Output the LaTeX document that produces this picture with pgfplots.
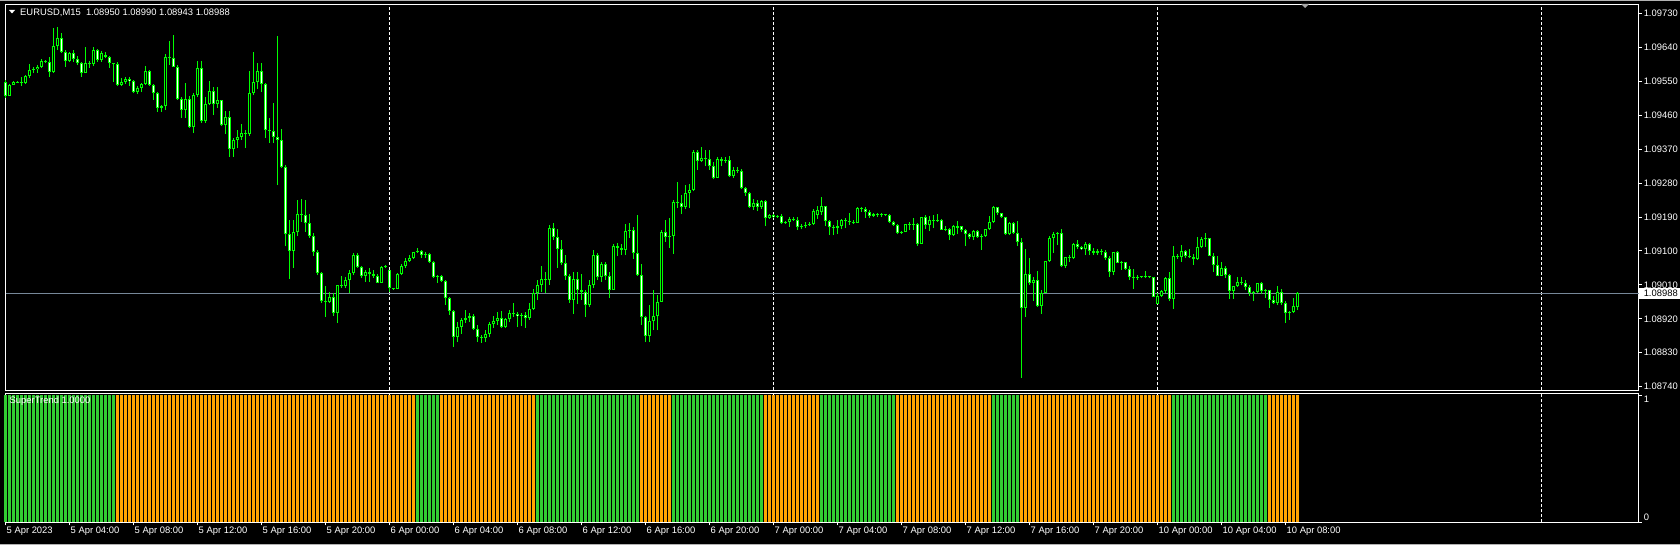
\documentclass[border=0pt]{standalone}
\usepackage{pgfplots}
\pgfplotsset{compat=1.18}
\usepackage{pgfplotstable}
\usepackage{fontspec}
\setmainfont{Liberation Sans}
\definecolor{candle}{RGB}{0,255,0}
\definecolor{stgreen}{RGB}{50,205,50}
\definecolor{storange}{RGB}{255,165,0}
\definecolor{pline}{RGB}{119,136,153}
\newcommand\mtf{\fontsize{9.4pt}{11pt}\selectfont}
\pgfplotstableread{
i o h l c
0 1.09549 1.09554 1.09506 1.09512
1 1.09512 1.09543 1.09512 1.09541
2 1.09541 1.09551 1.09541 1.09549
3 1.09549 1.09551 1.09546 1.09546
4 1.09546 1.09562 1.09538 1.09546
5 1.09546 1.09567 1.09543 1.09565
6 1.09565 1.09596 1.09559 1.09581
7 1.09581 1.09589 1.09573 1.09583
8 1.09583 1.09594 1.09573 1.09589
9 1.09589 1.09610 1.09586 1.09604
10 1.09604 1.09607 1.09599 1.09602
11 1.09602 1.09615 1.09562 1.09575
12 1.09575 1.09692 1.09573 1.09644
13 1.09644 1.09695 1.09634 1.09666
14 1.09666 1.09679 1.09626 1.09628
15 1.09628 1.09634 1.09589 1.09604
16 1.09604 1.09628 1.09602 1.09626
17 1.09626 1.09634 1.09602 1.09610
18 1.09610 1.09618 1.09594 1.09599
19 1.09599 1.09602 1.09562 1.09573
20 1.09573 1.09642 1.09573 1.09599
21 1.09599 1.09604 1.09586 1.09596
22 1.09596 1.09642 1.09591 1.09634
23 1.09634 1.09636 1.09602 1.09607
24 1.09607 1.09631 1.09602 1.09626
25 1.09620 1.09628 1.09612 1.09615
26 1.09615 1.09618 1.09586 1.09599
27 1.09599 1.09599 1.09549 1.09596
28 1.09596 1.09602 1.09538 1.09541
29 1.09541 1.09559 1.09538 1.09549
30 1.09549 1.09562 1.09543 1.09557
31 1.09557 1.09562 1.09538 1.09551
32 1.09551 1.09554 1.09519 1.09522
33 1.09522 1.09538 1.09517 1.09533
34 1.09533 1.09546 1.09522 1.09543
35 1.09543 1.09591 1.09541 1.09578
36 1.09578 1.09581 1.09538 1.09541
37 1.09541 1.09543 1.09501 1.09519
38 1.09519 1.09522 1.09469 1.09480
39 1.09480 1.09488 1.09469 1.09485
40 1.09485 1.09623 1.09474 1.09615
41 1.09615 1.09658 1.09594 1.09612
42 1.09612 1.09673 1.09589 1.09589
43 1.09589 1.09594 1.09501 1.09504
44 1.09504 1.09509 1.09453 1.09474
45 1.09474 1.09546 1.09453 1.09504
46 1.09504 1.09512 1.09427 1.09429
47 1.09429 1.09519 1.09413 1.09514
48 1.09514 1.09604 1.09509 1.09586
49 1.09586 1.09604 1.09440 1.09445
50 1.09445 1.09509 1.09440 1.09490
51 1.09490 1.09551 1.09488 1.09525
52 1.09525 1.09535 1.09461 1.09490
53 1.09490 1.09535 1.09480 1.09501
54 1.09501 1.09501 1.09432 1.09435
55 1.09435 1.09472 1.09411 1.09456
56 1.09456 1.09472 1.09350 1.09371
57 1.09371 1.09400 1.09350 1.09395
58 1.09395 1.09421 1.09373 1.09403
59 1.09403 1.09437 1.09395 1.09413
60 1.09413 1.09421 1.09373 1.09411
61 1.09411 1.09578 1.09405 1.09519
62 1.09519 1.09628 1.09514 1.09549
63 1.09549 1.09599 1.09530 1.09578
64 1.09578 1.09599 1.09522 1.09543
65 1.09543 1.09546 1.09400 1.09421
66 1.09421 1.09453 1.09387 1.09419
67 1.09419 1.09493 1.09387 1.09403
68 1.09403 1.09671 1.09275 1.09395
69 1.09395 1.09424 1.09320 1.09323
70 1.09323 1.09328 1.09113 1.09145
71 1.09145 1.09182 1.09026 1.09100
72 1.09100 1.09182 1.09055 1.09150
73 1.09150 1.09235 1.09140 1.09198
74 1.09198 1.09238 1.09177 1.09196
75 1.09196 1.09235 1.09150 1.09174
76 1.09174 1.09198 1.09135 1.09140
77 1.09140 1.09148 1.09087 1.09097
78 1.09097 1.09103 1.09036 1.09042
79 1.09042 1.09044 1.08962 1.08967
80 1.08967 1.09007 1.08925 1.08965
81 1.08965 1.08991 1.08962 1.08978
82 1.08978 1.08988 1.08927 1.08935
83 1.08935 1.09010 1.08909 1.09010
84 1.09010 1.09034 1.09002 1.09007
85 1.09007 1.09031 1.09002 1.09023
86 1.09023 1.09050 1.08988 1.09042
87 1.09042 1.09095 1.09036 1.09089
88 1.09089 1.09095 1.09055 1.09058
89 1.09058 1.09060 1.09028 1.09034
90 1.09034 1.09050 1.09018 1.09044
91 1.09044 1.09055 1.09018 1.09039
92 1.09039 1.09050 1.09028 1.09034
93 1.09034 1.09039 1.09015 1.09015
94 1.09015 1.09060 1.09015 1.09058
95 1.09058 1.09063 1.09055 1.09060
96 1.09050 1.09050 1.08991 1.09002
97 1.09002 1.09002 1.08996 1.08999
98 1.08999 1.09042 1.08999 1.09039
99 1.09039 1.09065 1.09036 1.09060
100 1.09060 1.09081 1.09055 1.09073
101 1.09073 1.09089 1.09071 1.09081
102 1.09081 1.09097 1.09079 1.09097
103 1.09097 1.09108 1.09095 1.09100
104 1.09100 1.09103 1.09081 1.09089
105 1.09089 1.09097 1.09081 1.09092
106 1.09092 1.09095 1.09068 1.09071
107 1.09071 1.09073 1.09028 1.09031
108 1.09031 1.09036 1.09015 1.09034
109 1.09034 1.09036 1.09018 1.09020
110 1.09020 1.09023 1.08957 1.08975
111 1.08975 1.08978 1.08930 1.08941
112 1.08941 1.08943 1.08845 1.08872
113 1.08872 1.08911 1.08858 1.08898
114 1.08898 1.08922 1.08880 1.08917
115 1.08917 1.08943 1.08909 1.08922
116 1.08922 1.08935 1.08911 1.08927
117 1.08927 1.08933 1.08890 1.08893
118 1.08893 1.08904 1.08858 1.08872
119 1.08872 1.08877 1.08856 1.08869
120 1.08869 1.08890 1.08858 1.08880
121 1.08880 1.08911 1.08872 1.08906
122 1.08906 1.08927 1.08896 1.08914
123 1.08914 1.08938 1.08904 1.08922
124 1.08922 1.08941 1.08896 1.08898
125 1.08898 1.08922 1.08896 1.08919
126 1.08919 1.08943 1.08911 1.08935
127 1.08935 1.08962 1.08925 1.08933
128 1.08933 1.08938 1.08898 1.08927
129 1.08927 1.08935 1.08901 1.08930
130 1.08930 1.08938 1.08896 1.08922
131 1.08922 1.08962 1.08917 1.08946
132 1.08946 1.08999 1.08943 1.08988
133 1.08988 1.09023 1.08970 1.09010
134 1.09010 1.09060 1.08991 1.09026
135 1.09026 1.09044 1.08988 1.09023
136 1.09023 1.09169 1.09010 1.09161
137 1.09161 1.09174 1.09129 1.09137
138 1.09137 1.09158 1.09055 1.09105
139 1.09105 1.09129 1.09063 1.09068
140 1.09068 1.09089 1.09023 1.09034
141 1.09034 1.09039 1.08962 1.08970
142 1.08970 1.09044 1.08933 1.09026
143 1.09026 1.09044 1.08959 1.08996
144 1.08996 1.09039 1.08970 1.08991
145 1.08991 1.08996 1.08925 1.08957
146 1.08957 1.09023 1.08951 1.09010
147 1.09010 1.09103 1.09002 1.09089
148 1.09089 1.09095 1.09023 1.09031
149 1.09031 1.09071 1.09018 1.09065
150 1.09065 1.09071 1.09023 1.09034
151 1.09034 1.09044 1.08975 1.08996
152 1.08996 1.09119 1.08996 1.09113
153 1.09113 1.09121 1.09087 1.09108
154 1.09108 1.09119 1.09089 1.09103
155 1.09103 1.09172 1.09089 1.09153
156 1.09153 1.09174 1.09135 1.09156
157 1.09156 1.09164 1.09079 1.09095
158 1.09095 1.09196 1.09034 1.09036
159 1.09036 1.09065 1.08904 1.08925
160 1.08925 1.08927 1.08858 1.08874
161 1.08874 1.08957 1.08858 1.08914
162 1.08914 1.08996 1.08890 1.08927
163 1.08927 1.08983 1.08890 1.08965
164 1.08965 1.09156 1.08965 1.09150
165 1.09150 1.09182 1.09124 1.09137
166 1.09137 1.09188 1.09108 1.09140
167 1.09140 1.09235 1.09092 1.09230
168 1.09230 1.09283 1.09214 1.09227
169 1.09227 1.09249 1.09198 1.09217
170 1.09217 1.09275 1.09212 1.09254
171 1.09254 1.09278 1.09214 1.09262
172 1.09262 1.09368 1.09259 1.09363
173 1.09363 1.09368 1.09315 1.09339
174 1.09339 1.09376 1.09336 1.09347
175 1.09347 1.09368 1.09326 1.09344
176 1.09344 1.09368 1.09315 1.09326
177 1.09326 1.09336 1.09291 1.09294
178 1.09294 1.09350 1.09294 1.09344
179 1.09344 1.09350 1.09326 1.09339
180 1.09339 1.09350 1.09334 1.09342
181 1.09342 1.09352 1.09296 1.09299
182 1.09299 1.09323 1.09294 1.09315
183 1.09315 1.09323 1.09307 1.09312
184 1.09312 1.09318 1.09265 1.09267
185 1.09267 1.09270 1.09246 1.09254
186 1.09254 1.09257 1.09214 1.09217
187 1.09217 1.09238 1.09209 1.09227
188 1.09227 1.09235 1.09206 1.09217
189 1.09217 1.09235 1.09212 1.09233
190 1.09233 1.09235 1.09166 1.09188
191 1.09188 1.09198 1.09185 1.09196
192 1.09196 1.09198 1.09188 1.09190
193 1.09190 1.09196 1.09188 1.09193
194 1.09193 1.09198 1.09172 1.09174
195 1.09174 1.09180 1.09172 1.09177
196 1.09177 1.09190 1.09164 1.09185
197 1.09185 1.09190 1.09180 1.09182
198 1.09182 1.09190 1.09156 1.09164
199 1.09164 1.09172 1.09158 1.09166
200 1.09166 1.09177 1.09161 1.09169
201 1.09169 1.09177 1.09166 1.09172
202 1.09172 1.09212 1.09169 1.09206
203 1.09196 1.09219 1.09185 1.09209
204 1.09204 1.09243 1.09196 1.09219
205 1.09219 1.09219 1.09166 1.09180
206 1.09180 1.09182 1.09142 1.09164
207 1.09164 1.09169 1.09142 1.09161
208 1.09161 1.09182 1.09145 1.09166
209 1.09166 1.09185 1.09158 1.09182
210 1.09182 1.09188 1.09161 1.09180
211 1.09180 1.09201 1.09169 1.09177
212 1.09177 1.09182 1.09172 1.09174
213 1.09174 1.09217 1.09174 1.09214
214 1.09214 1.09217 1.09204 1.09212
215 1.09212 1.09217 1.09188 1.09204
216 1.09204 1.09209 1.09188 1.09193
217 1.09193 1.09201 1.09190 1.09198
218 1.09198 1.09201 1.09190 1.09196
219 1.09196 1.09201 1.09190 1.09198
220 1.09198 1.09198 1.09193 1.09196
221 1.09196 1.09198 1.09174 1.09177
222 1.09177 1.09180 1.09166 1.09169
223 1.09169 1.09172 1.09145 1.09148
224 1.09148 1.09153 1.09145 1.09150
225 1.09150 1.09172 1.09150 1.09172
226 1.09172 1.09177 1.09156 1.09169
227 1.09169 1.09188 1.09156 1.09172
228 1.09172 1.09174 1.09113 1.09119
229 1.09119 1.09190 1.09119 1.09190
230 1.09190 1.09196 1.09158 1.09169
231 1.09169 1.09193 1.09153 1.09182
232 1.09182 1.09196 1.09161 1.09180
233 1.09180 1.09198 1.09177 1.09182
234 1.09182 1.09185 1.09156 1.09156
235 1.09156 1.09166 1.09153 1.09158
236 1.09158 1.09161 1.09129 1.09142
237 1.09142 1.09169 1.09140 1.09166
238 1.09161 1.09180 1.09145 1.09166
239 1.09166 1.09166 1.09150 1.09156
240 1.09156 1.09158 1.09113 1.09145
241 1.09145 1.09148 1.09132 1.09137
242 1.09137 1.09156 1.09129 1.09153
243 1.09153 1.09156 1.09135 1.09137
244 1.09137 1.09145 1.09103 1.09140
245 1.09140 1.09158 1.09137 1.09158
246 1.09158 1.09193 1.09156 1.09177
247 1.09177 1.09219 1.09174 1.09217
248 1.09217 1.09217 1.09196 1.09201
249 1.09201 1.09201 1.09188 1.09190
250 1.09190 1.09190 1.09142 1.09145
251 1.09145 1.09177 1.09142 1.09174
252 1.09174 1.09177 1.09145 1.09148
253 1.09148 1.09180 1.09113 1.09124
254 1.09124 1.09135 1.08763 1.08949
255 1.08949 1.09105 1.08925 1.09039
256 1.09039 1.09081 1.09010 1.09015
257 1.09015 1.09031 1.08967 1.09023
258 1.09023 1.09047 1.08951 1.08954
259 1.08954 1.08996 1.08933 1.08988
260 1.08988 1.09073 1.08988 1.09073
261 1.09073 1.09140 1.09071 1.09135
262 1.09135 1.09150 1.09095 1.09145
263 1.09145 1.09150 1.09116 1.09148
264 1.09148 1.09158 1.09058 1.09060
265 1.09060 1.09084 1.09055 1.09084
266 1.09084 1.09089 1.09071 1.09081
267 1.09081 1.09121 1.09079 1.09119
268 1.09119 1.09129 1.09105 1.09111
269 1.09111 1.09113 1.09103 1.09105
270 1.09105 1.09124 1.09089 1.09119
271 1.09119 1.09121 1.09089 1.09100
272 1.09100 1.09108 1.09089 1.09095
273 1.09095 1.09105 1.09089 1.09100
274 1.09100 1.09105 1.09089 1.09097
275 1.09097 1.09103 1.09076 1.09081
276 1.09081 1.09087 1.09031 1.09044
277 1.09044 1.09097 1.09036 1.09097
278 1.09097 1.09100 1.09068 1.09068
279 1.09068 1.09073 1.09050 1.09071
280 1.09071 1.09071 1.09050 1.09052
281 1.09052 1.09060 1.09023 1.09031
282 1.09031 1.09052 1.08999 1.09028
283 1.09028 1.09036 1.09023 1.09031
284 1.09031 1.09031 1.09028 1.09031
285 1.09031 1.09047 1.09028 1.09031
286 1.09031 1.09031 1.09028 1.09031
287 1.09031 1.09031 1.08978 1.08978
288 1.08959 1.08988 1.08959 1.08981
289 1.08981 1.08996 1.08978 1.08994
290 1.08994 1.09031 1.08988 1.09028
291 1.09028 1.09044 1.08967 1.08973
292 1.08973 1.09113 1.08946 1.09087
293 1.09087 1.09092 1.09079 1.09084
294 1.09084 1.09116 1.09071 1.09100
295 1.09100 1.09103 1.09081 1.09087
296 1.09087 1.09105 1.09081 1.09084
297 1.09084 1.09092 1.09063 1.09079
298 1.09079 1.09137 1.09076 1.09111
299 1.09111 1.09137 1.09108 1.09132
300 1.09132 1.09148 1.09111 1.09135
301 1.09135 1.09135 1.09087 1.09087
302 1.09087 1.09095 1.09044 1.09063
303 1.09063 1.09087 1.09034 1.09034
304 1.09034 1.09071 1.09034 1.09055
305 1.09055 1.09060 1.09028 1.09036
306 1.09036 1.09039 1.08973 1.08994
307 1.08994 1.09007 1.08973 1.09007
308 1.09007 1.09031 1.09004 1.09018
309 1.09018 1.09031 1.09010 1.09015
310 1.09015 1.09023 1.08996 1.09004
311 1.09004 1.09010 1.08981 1.08988
312 1.08988 1.08994 1.08967 1.08991
313 1.08991 1.09015 1.08988 1.09015
314 1.09015 1.09018 1.08986 1.08994
315 1.08994 1.08999 1.08975 1.08996
316 1.08996 1.08996 1.08949 1.08970
317 1.08970 1.08981 1.08959 1.08962
318 1.08962 1.09007 1.08957 1.08991
319 1.08991 1.08999 1.08957 1.08962
320 1.08962 1.08967 1.08909 1.08935
321 1.08935 1.08941 1.08917 1.08938
322 1.08938 1.08975 1.08935 1.08954
323 1.08950 1.08990 1.08943 1.08988
}\candles
\begin{document}
\begin{tikzpicture}
\useasboundingbox (0pt,0pt) rectangle (1680pt,545pt);
\fill[black] (0pt,0pt) rectangle (1680pt,545pt);
\fill[gray!60] (0pt,544pt) rectangle (1680pt,545pt);
\fill[gray!60] (0pt,0pt) rectangle (1680pt,1pt);
\begin{axis}[
  at={(5.5pt,154.5pt)}, anchor=south west,
  scale only axis, width=1633pt, height=386pt,
  xmin=0, xmax=408.25, ymin=1.087296, ymax=1.097544,
  clip=false,
  axis line style={white, line width=1pt},
  tick style={white, line width=1pt},
  tick align=outside, major tick length=3pt,
  xtick=\empty,
  extra x ticks={96,192,288,384}, extra x tick labels={},
  extra x tick style={grid=major, major tick length=0pt},
  major grid style={white, line width=1pt, dash pattern=on 3pt off 2pt},
  ytick pos=right, yticklabel pos=right,
  ytick={1.0874,1.0883,1.0892,1.0901,1.0910,1.0919,1.0928,1.0937,1.0946,1.0955,1.0964,1.0973},
  yticklabels={1.08740,1.08830,1.08920,1.09010,1.09100,1.09190,1.09280,1.09370,1.09460,1.09550,1.09640,1.09730},
  yticklabel style={font=\mtf, text=white, anchor=west, inner sep=0pt, xshift=2pt},
  scaled y ticks=false,
  candle/.style={draw=none, no markers, forget plot, error bars/.cd, y dir=plus, y explicit, error mark=none},
]
\addplot[pline, line width=1pt, forget plot, no markers] coordinates {(0,1.08988) (408.25,1.08988)};
\addplot[candle, error bar style={draw=candle, line width=1pt}]
  table[x=i, y=l, y error plus expr={\thisrow{h}-\thisrow{l}}] {\candles};
\addplot[candle, error bar style={draw=candle, line width=3pt}]
  table[x=i, y expr={min(\thisrow{o},\thisrow{c})}, y error plus expr={max(abs(\thisrow{c}-\thisrow{o}),0.0000266)}] {\candles};
\addplot[restrict expr to domain={\thisrow{o}-\thisrow{c}}{0.00006:1},
  candle, error bar style={draw=white, line width=1pt}]
  table[x=i, y expr={\thisrow{c}+0.0000266}, y error plus expr={\thisrow{o}-\thisrow{c}-0.0000531}] {\candles};
\addplot[restrict expr to domain={\thisrow{c}-\thisrow{o}}{0.00006:1},
  candle, error bar style={draw=black, line width=1pt}]
  table[x=i, y expr={\thisrow{o}+0.0000266}, y error plus expr={\thisrow{c}-\thisrow{o}-0.0000531}] {\candles};
\coordinate (pl) at (axis cs:408.25,1.08988);
\end{axis}
\fill[white] ([yshift=-5.5pt, xshift=0.5pt]pl) rectangle ++(42pt,11pt);
\node[font=\mtf, text=black, anchor=west, inner sep=0pt] at ([xshift=5pt]pl) {1.08988};
\fill[white] (9pt,535pt) -- (15pt,535pt) -- (12pt,531.5pt) -- cycle;
\node[font=\mtf, text=white, anchor=west, inner sep=0pt] at (20pt,532.3pt) {EURUSD,M15\ \ 1.08950 1.08990 1.08943 1.08988};
\fill[gray!70] (1301pt,541pt) -- (1309pt,541pt) -- (1305pt,537pt) -- cycle;
\begin{axis}[
  at={(5.5pt,22.5pt)}, anchor=south west,
  scale only axis, width=1633pt, height=129pt,
  xmin=0, xmax=408.25, ymin=0, ymax=1.012,
  clip=false,
  axis line style={white, line width=1pt},
  tick style={white, line width=1pt},
  tick align=outside, major tick length=3pt,
  xtick={0,16,...,320},
  xticklabels={5 Apr 2023,5 Apr 04:00,5 Apr 08:00,5 Apr 12:00,5 Apr 16:00,5 Apr 20:00,6 Apr 00:00,6 Apr 04:00,6 Apr 08:00,6 Apr 12:00,6 Apr 16:00,6 Apr 20:00,7 Apr 00:00,7 Apr 04:00,7 Apr 08:00,7 Apr 12:00,7 Apr 16:00,7 Apr 20:00,10 Apr 00:00,10 Apr 04:00,10 Apr 08:00},
  xtick pos=left, xticklabel pos=left,
  xticklabel style={font=\mtf, text=white, anchor=north west, inner sep=0pt, xshift=1pt, yshift=-1pt},
  extra x ticks={96,192,288,384}, extra x tick labels={},
  extra x tick style={grid=major, major tick length=0pt},
  major grid style={white, line width=1pt, dash pattern=on 3pt off 2pt},
  ytick={0,1}, yticklabels={}, ytick pos=right,
]
\addplot[ycomb, draw=stgreen, line width=3pt, no markers, forget plot] coordinates {
(0,1)(1,1)(2,1)(3,1)(4,1)(5,1)(6,1)(7,1)(8,1)(9,1)(10,1)(11,1)(12,1)(13,1)(14,1)(15,1)(16,1)(17,1)(18,1)(19,1)(20,1)(21,1)(22,1)(23,1)(24,1)(25,1)(26,1)(27,1)
(103,1)(104,1)(105,1)(106,1)(107,1)(108,1)
(133,1)(134,1)(135,1)(136,1)(137,1)(138,1)(139,1)(140,1)(141,1)(142,1)(143,1)(144,1)(145,1)(146,1)(147,1)(148,1)(149,1)(150,1)(151,1)(152,1)(153,1)(154,1)(155,1)(156,1)(157,1)(158,1)
(167,1)(168,1)(169,1)(170,1)(171,1)(172,1)(173,1)(174,1)(175,1)(176,1)(177,1)(178,1)(179,1)(180,1)(181,1)(182,1)(183,1)(184,1)(185,1)(186,1)(187,1)(188,1)(189,1)
(204,1)(205,1)(206,1)(207,1)(208,1)(209,1)(210,1)(211,1)(212,1)(213,1)(214,1)(215,1)(216,1)(217,1)(218,1)(219,1)(220,1)(221,1)(222,1)
(247,1)(248,1)(249,1)(250,1)(251,1)(252,1)(253,1)
(292,1)(293,1)(294,1)(295,1)(296,1)(297,1)(298,1)(299,1)(300,1)(301,1)(302,1)(303,1)(304,1)(305,1)(306,1)(307,1)(308,1)(309,1)(310,1)(311,1)(312,1)(313,1)(314,1)(315,1)
};
\addplot[ycomb, draw=storange, line width=3pt, no markers, forget plot] coordinates {
(28,1)(29,1)(30,1)(31,1)(32,1)(33,1)(34,1)(35,1)(36,1)(37,1)(38,1)(39,1)(40,1)(41,1)(42,1)(43,1)(44,1)(45,1)(46,1)(47,1)(48,1)(49,1)(50,1)(51,1)(52,1)(53,1)(54,1)(55,1)(56,1)(57,1)(58,1)(59,1)(60,1)(61,1)(62,1)(63,1)(64,1)(65,1)(66,1)(67,1)(68,1)(69,1)(70,1)(71,1)(72,1)(73,1)(74,1)(75,1)(76,1)(77,1)(78,1)(79,1)(80,1)(81,1)(82,1)(83,1)(84,1)(85,1)(86,1)(87,1)(88,1)(89,1)(90,1)(91,1)(92,1)(93,1)(94,1)(95,1)(96,1)(97,1)(98,1)(99,1)(100,1)(101,1)(102,1)
(109,1)(110,1)(111,1)(112,1)(113,1)(114,1)(115,1)(116,1)(117,1)(118,1)(119,1)(120,1)(121,1)(122,1)(123,1)(124,1)(125,1)(126,1)(127,1)(128,1)(129,1)(130,1)(131,1)(132,1)
(159,1)(160,1)(161,1)(162,1)(163,1)(164,1)(165,1)(166,1)
(190,1)(191,1)(192,1)(193,1)(194,1)(195,1)(196,1)(197,1)(198,1)(199,1)(200,1)(201,1)(202,1)(203,1)
(223,1)(224,1)(225,1)(226,1)(227,1)(228,1)(229,1)(230,1)(231,1)(232,1)(233,1)(234,1)(235,1)(236,1)(237,1)(238,1)(239,1)(240,1)(241,1)(242,1)(243,1)(244,1)(245,1)(246,1)
(254,1)(255,1)(256,1)(257,1)(258,1)(259,1)(260,1)(261,1)(262,1)(263,1)(264,1)(265,1)(266,1)(267,1)(268,1)(269,1)(270,1)(271,1)(272,1)(273,1)(274,1)(275,1)(276,1)(277,1)(278,1)(279,1)(280,1)(281,1)(282,1)(283,1)(284,1)(285,1)(286,1)(287,1)(288,1)(289,1)(290,1)(291,1)
(316,1)(317,1)(318,1)(319,1)(320,1)(321,1)(322,1)(323,1)
};
\node[font=\mtf, text=white, anchor=west, inner sep=0pt, xshift=4pt, yshift=-8pt] at (axis cs:0,1.012) {SuperTrend 1.0000};
\node[font=\mtf, text=white, anchor=west, inner sep=0pt, xshift=5pt, yshift=-6pt] at (axis cs:408.25,1.012) {1};
\node[font=\mtf, text=white, anchor=west, inner sep=0pt, xshift=5pt, yshift=5.5pt] at (axis cs:408.25,0) {0};
\end{axis}
\end{tikzpicture}
\end{document}
